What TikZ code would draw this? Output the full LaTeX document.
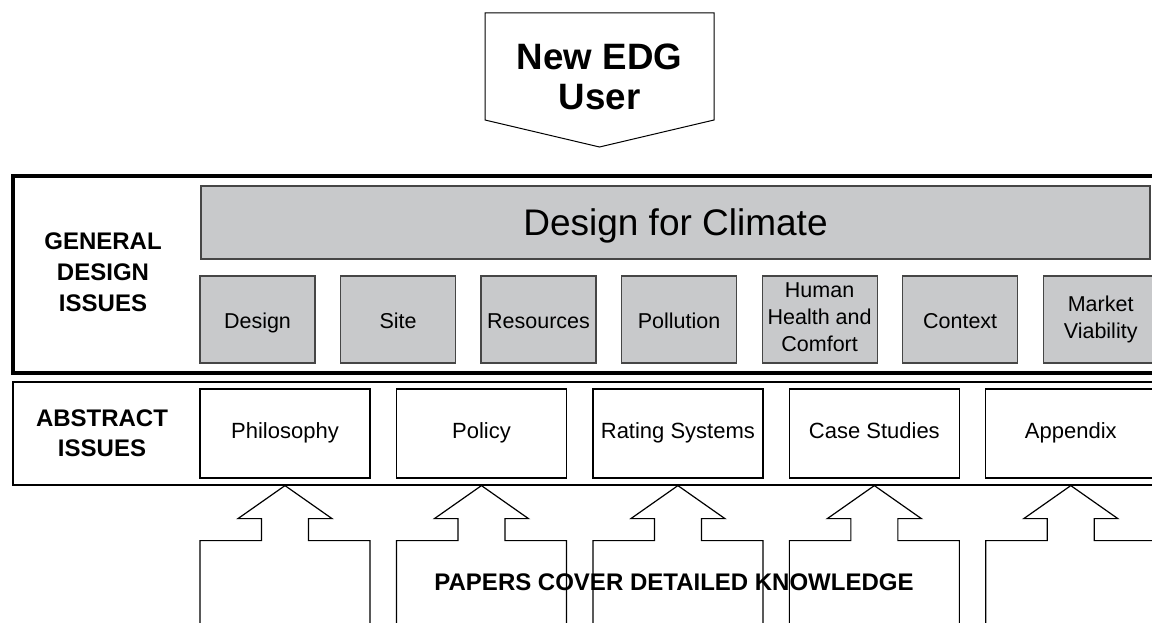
\documentclass[tikz,border=0pt]{standalone}
\usepackage{fontspec}
\setmainfont{Liberation Sans}
\usetikzlibrary{positioning}
\definecolor{boxgray}{RGB}{200,201,203}
\definecolor{edgegray}{RGB}{70,70,70}

\begin{document}
\begin{tikzpicture}[x=1pt,y=-1pt,
    issue/.style={draw=edgegray,line width=1.2pt,fill=boxgray,minimum width=115pt,minimum height=87pt,
      inner sep=0pt,align=center,font=\fontsize{21.5}{27}\selectfont,
      execute at begin node={\rule[-5pt]{0pt}{27pt}}},
    topic/.style={draw=black,line width=1.2pt,minimum width=170pt,minimum height=89pt,
      inner sep=0pt,align=center,font=\fontsize{22}{27}\selectfont,execute at begin node=\strut},
    rowlabel/.style={align=center,font=\bfseries\fontsize{24}{31}\selectfont}]

  \clip (0,0) rectangle (1152,623);

  % entry point
  \draw[line width=1pt] (485,13) -- (714,13) -- (714,120) -- (599.5,147) -- (485,120) -- cycle;
  \node[align=center,font=\bfseries\fontsize{36.7}{40}\selectfont] (user) at (599.5,77) {New EDG\\User};

  % general design issues
  \draw[line width=3.5pt] (13,176) rectangle (1180,373);
  \node[rowlabel] (general) at (103,272) {GENERAL\\DESIGN\\ISSUES};
  \node[issue,minimum width=949pt,minimum height=73pt,font=\fontsize{37}{44}\selectfont,
    execute at begin node={\rule{0pt}{33.4pt}}] (climate) at (675.5,222.5) {Design for Climate};
  \node[issue] (design) at (257.5,319.5) {Design};
  \node[issue,right=24.33pt of design] (site) {Site};
  \node[issue,right=24.33pt of site] (resources) {Resources};
  \node[issue,right=24.33pt of resources] (pollution) {Pollution};
  \node[issue,right=24.33pt of pollution] (health) {Human\\Health and\\Comfort};
  \node[issue,right=24.33pt of health] (context) {Context};
  \node[issue,right=24.33pt of context] (market) {Market\\Viability};

  % abstract issues
  \draw[line width=1.5pt] (13,382) rectangle (1180,485);
  \node[rowlabel,font=\bfseries\fontsize{24}{30}\selectfont] (abstract) at (102,433) {ABSTRACT\\ISSUES};
  \node[topic] (philosophy) at (285,433.5) {Philosophy};
  \node[topic,right=25.25pt of philosophy] (policy) {Policy};
  \node[topic,right=25.25pt of policy] (rating) {Rating Systems};
  \node[topic,right=25.25pt of rating] (cases) {Case Studies};
  \node[topic,right=25.25pt of cases] (appendix) {Appendix};

  % papers pushing up into each topic
  \foreach \t in {philosophy,policy,rating,cases,appendix}
    \draw[line width=1.2pt] (\t.south) ++(-85,162) -- ++(0,-100) -- ++(61.5,0) -- ++(0,-22) -- ++(-23.5,0)
      -- ++(47,-33) -- ++(47,33) -- ++(-23.5,0) -- ++(0,22) -- ++(61.5,0) -- ++(0,100);
  \node[font=\bfseries\fontsize{24}{28}\selectfont] (papers) at (674,582) {PAPERS COVER DETAILED KNOWLEDGE};

\end{tikzpicture}
\end{document}
